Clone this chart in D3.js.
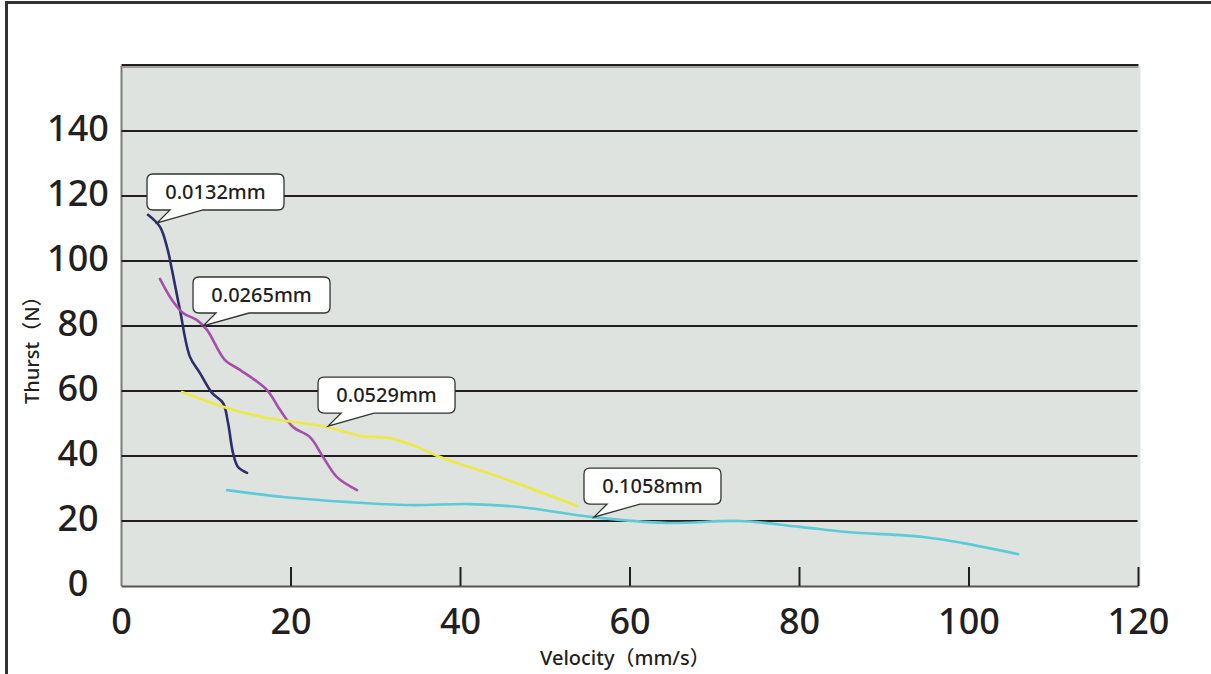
<!DOCTYPE html>
<html><head><meta charset="utf-8">
<script src="https://cdn.jsdelivr.net/npm/d3@7"></script>
<style>body{margin:0;background:#fff;}svg{display:block;}</style>
</head><body>
<svg id="c" width="1211" height="674"></svg>
<script>
const xTicks = [0,20,40,60,80,100,120];
const yTicks = [0,20,40,60,80,100,120,140];
const seriesNames = ["0.0132mm","0.0265mm","0.0529mm","0.1058mm"];
const seriesColors = ["#2b2e6b","#a550a8","#ecea44","#5ccbd7"];
const s0132 = [[3.13,114.2],[4.54,110.5],[5.37,104.3],[5.96,97.2],[6.9,84.9],[8.08,70.5],[9.26,65.5],[10.68,59.4],[11.98,56.3],[12.57,50.2],[13.16,40.9],[13.75,36.6],[14.81,34.8]];
const s0265 = [[4.54,94.5],[5.96,88.0],[7.26,84.0],[8.91,81.8],[10.09,78.8],[12.21,69.5],[13.98,66.5],[17.17,60.3],[18.7,54.2],[20.24,48.9],[22.24,45.8],[23.78,39.7],[25.43,33.5],[27.79,29.5]];
const s0529 = [[7.14,59.7],[12.45,54.8],[17.17,51.7],[21.06,50.2],[24.25,48.9],[28.14,46.2],[31.68,45.5],[34.87,42.8],[37.58,39.7],[44.66,33.5],[53.75,24.6]];
const s1058 = [[12.45,29.5],[19.06,27.4],[26.96,25.8],[34.0,24.9],[41.1,25.2],[47.0,24.3],[55.6,21.2],[64.4,19.4],[73.0,20.0],[80.06,18.2],[85.6,16.6],[94.6,15.1],[99.3,13.2],[105.8,9.8]];
const calloutTips = [[4.19,111.7],[9.62,80.0],[24.37,49.2],[55.75,21.2]];

const svg = d3.select("#c");
const L=121.5, R=1138.5, T=66, B=586;
const x = d3.scaleLinear().domain([0,120]).range([L,R]);
const y = d3.scaleLinear().domain([0,160]).range([B,T]);
const font = "'Noto Sans','Open Sans','Noto Sans CJK SC',sans-serif";

// outer frame
svg.append("line").attr("x1",6.5).attr("x2",6.5).attr("y1",2.5).attr("y2",680).attr("stroke","#333").attr("stroke-width",3);
svg.append("line").attr("x1",5).attr("x2",1215).attr("y1",2.5).attr("y2",2.5).attr("stroke","#333").attr("stroke-width",3);

// plot background
svg.append("rect").attr("x",L).attr("y",T).attr("width",R-L+2).attr("height",B-T).attr("fill","#dee3df");
svg.append("line").attr("x1",L).attr("x2",L).attr("y1",T).attr("y2",B).attr("stroke","#7a7a7a").attr("stroke-width",2);
svg.append("line").attr("x1",L).attr("x2",R).attr("y1",T-1).attr("y2",T-1).attr("stroke","#231f20").attr("stroke-width",2);
svg.append("line").attr("x1",L).attr("x2",R).attr("y1",T+1).attr("y2",T+1).attr("stroke","#8a8a8a").attr("stroke-width",1.5);
svg.append("line").attr("x1",L).attr("x2",R).attr("y1",B+0.5).attr("y2",B+0.5).attr("stroke","#555").attr("stroke-width",2);

// gridlines
svg.append("g").selectAll("line").data(yTicks.filter(d=>d>0)).join("line")
  .attr("x1",L).attr("x2",R-1).attr("y1",d=>y(d)).attr("y2",d=>y(d))
  .attr("stroke","#231f20").attr("stroke-width",2);

// x ticks (inside)
svg.append("g").selectAll("line").data(xTicks.filter(d=>d>0)).join("line")
  .attr("x1",d=>x(d)).attr("x2",d=>x(d)).attr("y1",B-19).attr("y2",B)
  .attr("stroke","#231f20").attr("stroke-width",2);

// tick labels
svg.append("g").selectAll("text").data(yTicks).join("text")
  .attr("x",78).attr("y",d=>y(d)+10).attr("text-anchor","middle")
  .attr("font-family",font).attr("font-size",36).attr("font-weight",500).attr("fill","#231f20")
  .text(d=>d);
svg.append("g").selectAll("text").data(xTicks).join("text")
  .attr("x",d=>x(d)).attr("y",634).attr("text-anchor","middle")
  .attr("font-family",font).attr("font-size",36).attr("font-weight",500).attr("fill","#231f20")
  .text(d=>d);

// axis titles
svg.append("text").attr("x",540).attr("y",665).attr("text-anchor","start")
  .attr("font-family",font).attr("font-size",20).attr("font-weight",500).attr("fill","#231f20")
  .text("Velocity（mm/s）");
svg.append("text").attr("transform","translate(39,404) rotate(-90)").attr("text-anchor","start")
  .attr("font-family",font).attr("font-size",20).attr("font-weight",500).attr("fill","#231f20")
  .text("Thurst（N）");

// series
const allSeries = [s0132,s0265,s0529,s1058];
const line = d3.line().x(d=>x(d[0])).y(d=>y(d[1])).curve(d3.curveCatmullRom.alpha(0.5));
svg.append("g").selectAll("path").data(allSeries).join("path")
  .attr("d",line).attr("fill","none")
  .attr("stroke",(d,i)=>seriesColors[i]).attr("stroke-width",2.6).attr("stroke-linecap","round");

// callouts
const cg = svg.append("g");
calloutTips.forEach((t,i)=>{
  const tx = x(t[0]), ty = y(t[1]);
  const bx = tx-10, by = ty-49, bw = 137, bh = 36, r = 6;
  const b1 = tx+13, b2 = tx+46;
  const p = `M${bx+r},${by} H${bx+bw-r} Q${bx+bw},${by} ${bx+bw},${by+r} V${by+bh-r} Q${bx+bw},${by+bh} ${bx+bw-r},${by+bh} H${b2} L${tx},${ty} L${b1},${by+bh} H${bx+r} Q${bx},${by+bh} ${bx},${by+bh-r} V${by+r} Q${bx},${by} ${bx+r},${by} Z`;
  cg.append("path").attr("d",p).attr("fill","#fff").attr("stroke","#333").attr("stroke-width",1.3);
  cg.append("text").attr("x",bx+bw/2).attr("y",by+bh/2).attr("dy","0.36em").attr("text-anchor","middle")
    .attr("font-family",font).attr("font-size",20).attr("font-weight",500).attr("fill","#231f20")
    .text(seriesNames[i]);
});
</script>
</body></html>
